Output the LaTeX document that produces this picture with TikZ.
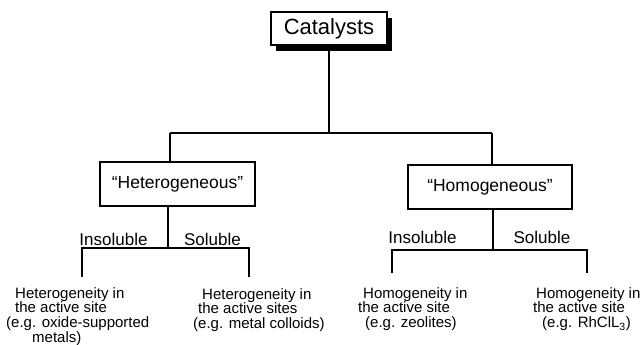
\documentclass[tikz,border=0pt]{standalone}
\usepackage{fontspec}
\setmainfont{Liberation Sans}
\usetikzlibrary{shadows}
\begin{document}
\begin{tikzpicture}[x=1pt,y=-1pt,
  catbox/.style={draw, line width=1.6pt, fill=white, minimum width=116pt, minimum height=33pt, inner sep=0pt,
    font=\fontsize{22}{24}\selectfont,
    drop shadow={shadow xshift=5pt, shadow yshift=-6pt, fill=black, opacity=1}},
  kindbox/.style={draw, line width=1.5pt, fill=white, minimum height=44pt, inner sep=0pt,
    font=\fontsize{17.5}{20}\selectfont},
  lbl/.style={inner sep=0pt, font=\fontsize{17}{20}\selectfont},
  desc/.style={inner sep=0pt, align=left, anchor=north west, font=\fontsize{15}{14.8}\selectfont},
  conn/.style={line width=1.1pt},
  brk/.style={line width=1.8pt}
]
\useasboundingbox (0,0) rectangle (643,345);

% top node
\node[catbox] (cat) at (329,28.5) {Catalysts};

% second level
\node[kindbox, minimum width=155pt] (het) at (177.5,184) {``Heterogeneous''};
\node[kindbox, minimum width=164pt] (hom) at (490,187) {``Homogeneous''};

\coordinate (jl) at (170,133);
\coordinate (jr) at (492,133);
\draw[conn] (cat.south) -- (cat.south |- jl);
\draw[conn] (jl) -- (jr);
\draw[conn] (jl) -- (jl |- het.north);
\draw[conn] (jr) -- (jr |- hom.north);

% heterogeneous branch
\coordinate (hsplit) at (168,248);
\coordinate (hl) at (82,248);
\coordinate (hr) at (249,248);
\coordinate (hlb) at (82,277);
\coordinate (hrb) at (249,277);
\draw[conn] (hsplit |- het.south) -- (hsplit);
\draw[brk] (hlb) -- (hl) -- (hr) -- (hrb);
\node[lbl] (hins) at (113.5,239) {Insoluble};
\node[lbl] (hsol) at (212.5,239) {Soluble};

% homogeneous branch
\coordinate (osplit) at (493,250);
\coordinate (ol) at (392,250);
\coordinate (or) at (587,250);
\coordinate (olb) at (392,273);
\coordinate (orb) at (587,273);
\draw[conn] (osplit |- hom.south) -- (osplit);
\draw[brk] (olb) -- (ol) -- (or) -- (orb);
\node[lbl] (oins) at (422.5,237) {Insoluble};
\node[lbl] (osol) at (542,237) {Soluble};

% descriptions
\node[desc] (d1) at (6,287) {\hspace*{9pt}Heterogeneity in\\ \hspace*{9pt}the active site\\ (e.g. oxide-supported\\ \hspace*{26pt}metals)};
\node[desc] (d2) at (193,288) {\hspace*{9pt}Heterogeneity in\\ \hspace*{5pt}the active sites\\ (e.g. metal colloids)};
\node[desc] (d3) at (358,287) {\hspace*{5pt}Homogeneity in\\ the active site\\ \hspace*{7pt}(e.g. zeolites)};
\node[desc] (d4) at (533,287) {\hspace*{3pt}Homogeneity in\\ the active site\\ \hspace*{9pt}(e.g. RhClL\textsubscript{3})};
\end{tikzpicture}
\end{document}
